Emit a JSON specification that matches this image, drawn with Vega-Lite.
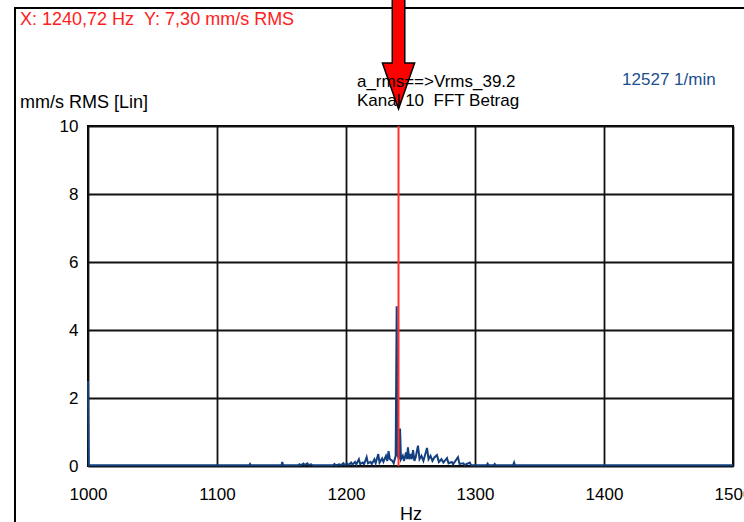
{
  "$schema": "https://vega.github.io/schema/vega-lite/v6.json",
  "width": 645,
  "height": 340,
  "autosize": {"type": "none"},
  "padding": {"left": 88, "top": 126, "right": 11, "bottom": 56},
  "background": "white",
  "config": {
    "font": "Liberation Sans",
    "view": {"stroke": "black", "strokeWidth": 2},
    "axis": {
      "grid": true, "gridColor": "#111111", "gridWidth": 1.8, "gridOpacity": 1,
      "domain": false, "ticks": false, "labelFlush": false, "labelOverlap": false, "labelBound": false,
      "labelFont": "Liberation Sans", "labelFontSize": 17, "labelColor": "black",
      "titleFont": "Liberation Sans", "titleFontSize": 18, "titleFontWeight": "normal", "titleColor": "black"
    }
  },
  "datasets": {
    "one": [{}],
    "spectrum": [
      {"f": 1000, "v": 2.5}, {"f": 1000.6, "v": 0.02},
      {"f": 1125, "v": 0.02}, {"f": 1125.6, "v": 0.06}, {"f": 1126.2, "v": 0.02},
      {"f": 1150, "v": 0.02}, {"f": 1150.6, "v": 0.12}, {"f": 1151.2, "v": 0.02},
      {"f": 1163, "v": 0.02}, {"f": 1164, "v": 0.05}, {"f": 1165, "v": 0.02}, {"f": 1167, "v": 0.07}, {"f": 1168, "v": 0.03},
      {"f": 1170, "v": 0.08}, {"f": 1171, "v": 0.03}, {"f": 1173, "v": 0.05}, {"f": 1174, "v": 0.02},
      {"f": 1190, "v": 0.02}, {"f": 1191, "v": 0.06}, {"f": 1192, "v": 0.02}, {"f": 1195, "v": 0.05}, {"f": 1196, "v": 0.02},
      {"f": 1198, "v": 0.08}, {"f": 1199, "v": 0.03}, {"f": 1201, "v": 0.07}, {"f": 1202, "v": 0.03}, {"f": 1204, "v": 0.1},
      {"f": 1205, "v": 0.04}, {"f": 1207, "v": 0.12}, {"f": 1208, "v": 0.05}, {"f": 1210, "v": 0.2}, {"f": 1211, "v": 0.06},
      {"f": 1213, "v": 0.1}, {"f": 1214, "v": 0.05}, {"f": 1216, "v": 0.26}, {"f": 1217, "v": 0.08}, {"f": 1219, "v": 0.12},
      {"f": 1220, "v": 0.06}, {"f": 1222, "v": 0.2}, {"f": 1223, "v": 0.08}, {"f": 1225, "v": 0.35}, {"f": 1226, "v": 0.1},
      {"f": 1228, "v": 0.22}, {"f": 1229, "v": 0.12}, {"f": 1231, "v": 0.3}, {"f": 1232, "v": 0.15}, {"f": 1233, "v": 0.44},
      {"f": 1234, "v": 0.2}, {"f": 1236, "v": 0.15}, {"f": 1237, "v": 0.08}, {"f": 1238.5, "v": 0.3}, {"f": 1239.3, "v": 4.7},
      {"f": 1240, "v": 0.3}, {"f": 1241.2, "v": 0.2}, {"f": 1241.9, "v": 1.1}, {"f": 1242.6, "v": 0.2}, {"f": 1244, "v": 0.3},
      {"f": 1245, "v": 0.15}, {"f": 1246.5, "v": 0.4}, {"f": 1247.3, "v": 0.2}, {"f": 1248, "v": 0.55}, {"f": 1249, "v": 0.2},
      {"f": 1250, "v": 0.35}, {"f": 1251, "v": 0.2}, {"f": 1252, "v": 0.47}, {"f": 1253, "v": 0.15}, {"f": 1254, "v": 0.25},
      {"f": 1255.8, "v": 0.6}, {"f": 1257, "v": 0.2}, {"f": 1258.5, "v": 0.3}, {"f": 1260, "v": 0.15}, {"f": 1262.8, "v": 0.53},
      {"f": 1264, "v": 0.2}, {"f": 1265.5, "v": 0.3}, {"f": 1267, "v": 0.15}, {"f": 1268.5, "v": 0.25}, {"f": 1270.5, "v": 0.32},
      {"f": 1272, "v": 0.12}, {"f": 1274, "v": 0.2}, {"f": 1275.5, "v": 0.1}, {"f": 1278.3, "v": 0.23}, {"f": 1279.5, "v": 0.08},
      {"f": 1282, "v": 0.12}, {"f": 1283, "v": 0.05}, {"f": 1286.8, "v": 0.26}, {"f": 1288, "v": 0.06}, {"f": 1291, "v": 0.08},
      {"f": 1292, "v": 0.03}, {"f": 1296, "v": 0.1}, {"f": 1297, "v": 0.02},
      {"f": 1309, "v": 0.02}, {"f": 1309.8, "v": 0.07}, {"f": 1310.6, "v": 0.02},
      {"f": 1314.5, "v": 0.02}, {"f": 1315.3, "v": 0.06}, {"f": 1316, "v": 0.02},
      {"f": 1329.5, "v": 0.02}, {"f": 1330.3, "v": 0.1}, {"f": 1331, "v": 0.02},
      {"f": 1500, "v": 0.02}
    ]
  },
  "layer": [
    {
      "data": {"name": "spectrum"},
      "mark": {"type": "line", "color": "#123f7e", "strokeWidth": 2, "interpolate": "linear"},
      "encoding": {
        "x": {"field": "f", "type": "quantitative", "scale": {"domain": [1000, 1500], "nice": false, "zero": false},
              "axis": {"values": [1000, 1100, 1200, 1300, 1400, 1500], "title": "Hz", "labelPadding": 20, "titlePadding": 3, "format": "d", "grid": true}},
        "y": {"field": "v", "type": "quantitative", "scale": {"domain": [0, 10], "nice": false, "zero": false},
              "axis": {"values": [0, 2, 4, 6, 8, 10], "title": null, "labelPadding": 10, "grid": true}}
      }
    },
    {
      "data": {"name": "one"},
      "mark": {"type": "rect", "fill": null, "stroke": "black", "strokeWidth": 2, "clip": false},
      "encoding": {
        "x": {"datum": 943.4, "type": "quantitative", "scale": {"domain": [1000, 1500], "nice": false, "zero": false}},
        "x2": {"datum": 1530},
        "y": {"datum": 13.47, "type": "quantitative", "scale": {"domain": [0, 10], "nice": false, "zero": false}},
        "y2": {"datum": -2.5}
      }
    },
    {
      "data": {"name": "one"},
      "mark": {"type": "rule", "color": "#ff3030", "strokeWidth": 2},
      "encoding": {
        "x": {"datum": 1240.72, "type": "quantitative", "scale": {"domain": [1000, 1500], "nice": false, "zero": false}},
        "y": {"datum": 0, "type": "quantitative", "scale": {"domain": [0, 10], "nice": false, "zero": false}},
        "y2": {"datum": 10}
      }
    },
    {
      "data": {"name": "one"},
      "mark": {"type": "rule", "color": "black", "strokeWidth": 14, "clip": false},
      "encoding": {
        "x": {"datum": 1240.72, "type": "quantitative", "scale": {"domain": [1000, 1500], "nice": false, "zero": false}},
        "y": {"datum": 14, "type": "quantitative", "scale": {"domain": [0, 10], "nice": false, "zero": false}},
        "y2": {"datum": 11.8}
      }
    },
    {
      "data": {"name": "one"},
      "mark": {"type": "point", "shape": "M-0.7,-1L0.7,-1L0,1Z", "size": 2116, "filled": true, "fill": "#ff0000", "stroke": "black", "strokeWidth": 1.5, "opacity": 1, "clip": false},
      "encoding": {
        "x": {"datum": 1240.72, "type": "quantitative", "scale": {"domain": [1000, 1500], "nice": false, "zero": false}},
        "y": {"datum": 11.18, "type": "quantitative", "scale": {"domain": [0, 10], "nice": false, "zero": false}}
      }
    },
    {
      "data": {"name": "one"},
      "mark": {"type": "rule", "color": "#ff0000", "strokeWidth": 11, "clip": false},
      "encoding": {
        "x": {"datum": 1240.72, "type": "quantitative", "scale": {"domain": [1000, 1500], "nice": false, "zero": false}},
        "y": {"datum": 14, "type": "quantitative", "scale": {"domain": [0, 10], "nice": false, "zero": false}},
        "y2": {"datum": 11.72}
      }
    },
    {
      "data": {"name": "one"},
      "mark": {"type": "text", "text": "X: 1240,72 Hz\u00a0\u00a0Y: 7,30 mm/s RMS", "color": "#ff2020", "fontSize": 18, "align": "left", "baseline": "alphabetic", "clip": false},
      "encoding": {
        "x": {"datum": 947.3, "type": "quantitative", "scale": {"domain": [1000, 1500], "nice": false, "zero": false}},
        "y": {"datum": 12.97, "type": "quantitative", "scale": {"domain": [0, 10], "nice": false, "zero": false}}
      }
    },
    {
      "data": {"name": "one"},
      "mark": {"type": "text", "text": "mm/s RMS [Lin]", "color": "black", "fontSize": 18, "align": "left", "baseline": "alphabetic", "clip": false},
      "encoding": {
        "x": {"datum": 947.3, "type": "quantitative", "scale": {"domain": [1000, 1500], "nice": false, "zero": false}},
        "y": {"datum": 10.53, "type": "quantitative", "scale": {"domain": [0, 10], "nice": false, "zero": false}}
      }
    },
    {
      "data": {"name": "one"},
      "mark": {"type": "text", "text": "a_rms==>Vrms_39.2", "color": "black", "fontSize": 17, "align": "left", "baseline": "alphabetic", "clip": false},
      "encoding": {
        "x": {"datum": 1208.5, "type": "quantitative", "scale": {"domain": [1000, 1500], "nice": false, "zero": false}},
        "y": {"datum": 11.15, "type": "quantitative", "scale": {"domain": [0, 10], "nice": false, "zero": false}}
      }
    },
    {
      "data": {"name": "one"},
      "mark": {"type": "text", "text": "Kanal 10\u00a0\u00a0FFT Betrag", "color": "black", "fontSize": 17, "align": "left", "baseline": "alphabetic", "clip": false},
      "encoding": {
        "x": {"datum": 1208.5, "type": "quantitative", "scale": {"domain": [1000, 1500], "nice": false, "zero": false}},
        "y": {"datum": 10.59, "type": "quantitative", "scale": {"domain": [0, 10], "nice": false, "zero": false}}
      }
    },
    {
      "data": {"name": "one"},
      "mark": {"type": "text", "text": "12527 1/min", "color": "#1a4f8f", "fontSize": 17, "align": "left", "baseline": "alphabetic", "clip": false},
      "encoding": {
        "x": {"datum": 1414, "type": "quantitative", "scale": {"domain": [1000, 1500], "nice": false, "zero": false}},
        "y": {"datum": 11.21, "type": "quantitative", "scale": {"domain": [0, 10], "nice": false, "zero": false}}
      }
    }
  ]
}
